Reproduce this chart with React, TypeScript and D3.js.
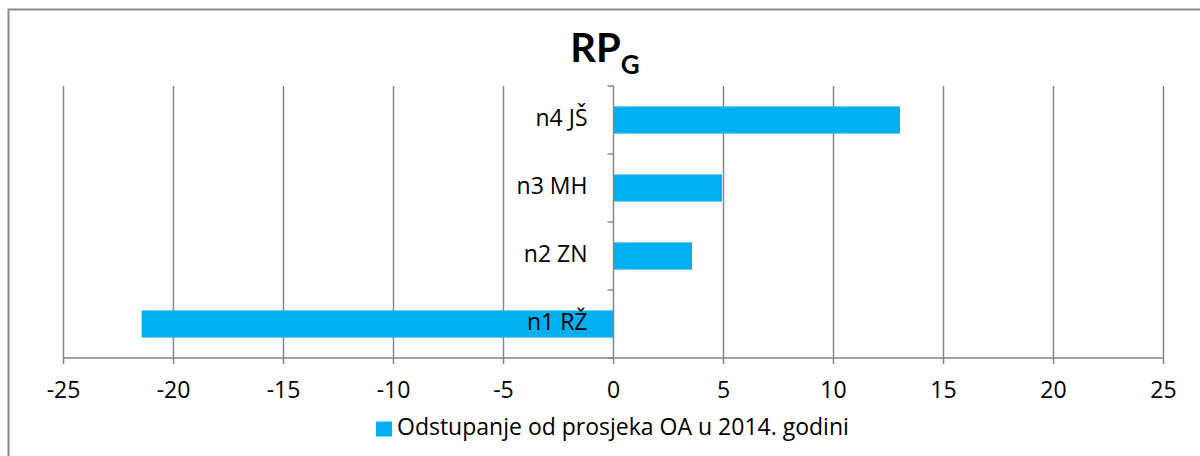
import React from "react";
import * as d3 from "d3";

const categories = ["n1 RŽ", "n2 ZN", "n3 MH", "n4 JŠ"];
const values = [-21.45, 3.57, 4.93, 13.02];
const xTicks = [-25, -20, -15, -10, -5, 0, 5, 10, 15, 20, 25];
const seriesName = "Odstupanje od prosjeka OA u 2014. godini";

const W = 1200;
const H = 456;
const plot = { left: 63.5, right: 1163.5, top: 86, bottom: 358 };
const barColor = "#00B0F0";
const gridColor = "#868686";
const font = "'Open Sans', Lato, sans-serif";
const titleFont = "Lato, 'Open Sans', sans-serif";
const labelSize = 23;

export default function App() {
  const x = d3.scaleLinear().domain([-25, 25]).range([plot.left, plot.right]);
  const y = d3
    .scaleBand<string>()
    .domain([...categories].reverse())
    .range([plot.top, plot.bottom])
    .paddingInner(0.6)
    .paddingOuter(0.3);

  const step = y.step();
  const catTicks = d3.range(categories.length + 1).map((i) => plot.top + i * step);
  const x0 = x(0);

  return (
    <div style={{ position: "absolute", left: 0, top: 0 }}>
      <svg width={W} height={H} style={{ display: "block", fontFamily: font }}>
        <rect x={0} y={0} width={W} height={H} fill="#fff" />
        {/* chart frame */}
        <path d={`M${W + 2},9.5 H8.5 V${H + 2}`} fill="none" stroke="#878787" strokeWidth={2} />

        {/* title */}
        <text x={605} y={62} textAnchor="middle" fontWeight="bold" fontSize={40} fill="#000" fontFamily={titleFont}>
          RP
          <tspan dy={12} fontSize={26}>G</tspan>
        </text>

        {/* vertical gridlines */}
        {xTicks.filter((t) => t !== 0).map((t) => (
          <line key={t} x1={x(t)} x2={x(t)} y1={plot.top} y2={plot.bottom} stroke={gridColor} strokeWidth={1.5} />
        ))}

        {/* bars */}
        {categories.map((c, i) => {
          const v = values[i];
          return (
            <rect
              key={c}
              x={Math.min(x(v), x0)}
              y={y(c)}
              width={Math.abs(x(v) - x0)}
              height={y.bandwidth()}
              fill={barColor}
            />
          );
        })}

        {/* x axis */}
        <line x1={plot.left} x2={plot.right} y1={plot.bottom} y2={plot.bottom} stroke={gridColor} strokeWidth={1.5} />
        {xTicks.map((t) => (
          <g key={t}>
            <line x1={x(t)} x2={x(t)} y1={plot.bottom} y2={plot.bottom + 6} stroke={gridColor} strokeWidth={1.5} />
            <text x={x(t)} y={392} textAnchor="middle" dominantBaseline="middle" fontSize={labelSize} fill="#000">
              {t}
            </text>
          </g>
        ))}

        {/* category axis at zero */}
        <line x1={x0} x2={x0} y1={plot.top} y2={plot.bottom} stroke={gridColor} strokeWidth={1.5} />
        {catTicks.map((ty, i) => (
          <line key={i} x1={x0 - 6} x2={x0} y1={ty} y2={ty} stroke={gridColor} strokeWidth={1.5} />
        ))}
        {categories.map((c) => (
          <text
            key={c}
            x={x0 - 26}
            y={(y(c) ?? 0) + y.bandwidth() / 2}
            textAnchor="end"
            dominantBaseline="middle"
            fontSize={labelSize}
            fill="#000"
          >
            {c}
          </text>
        ))}

        {/* legend */}
        <rect x={376} y={421.5} width={16} height={15} fill={barColor} />
        <text x={397} y={429} dominantBaseline="middle" fontSize={labelSize} fill="#000">
          {seriesName}
        </text>
      </svg>
    </div>
  );
}
